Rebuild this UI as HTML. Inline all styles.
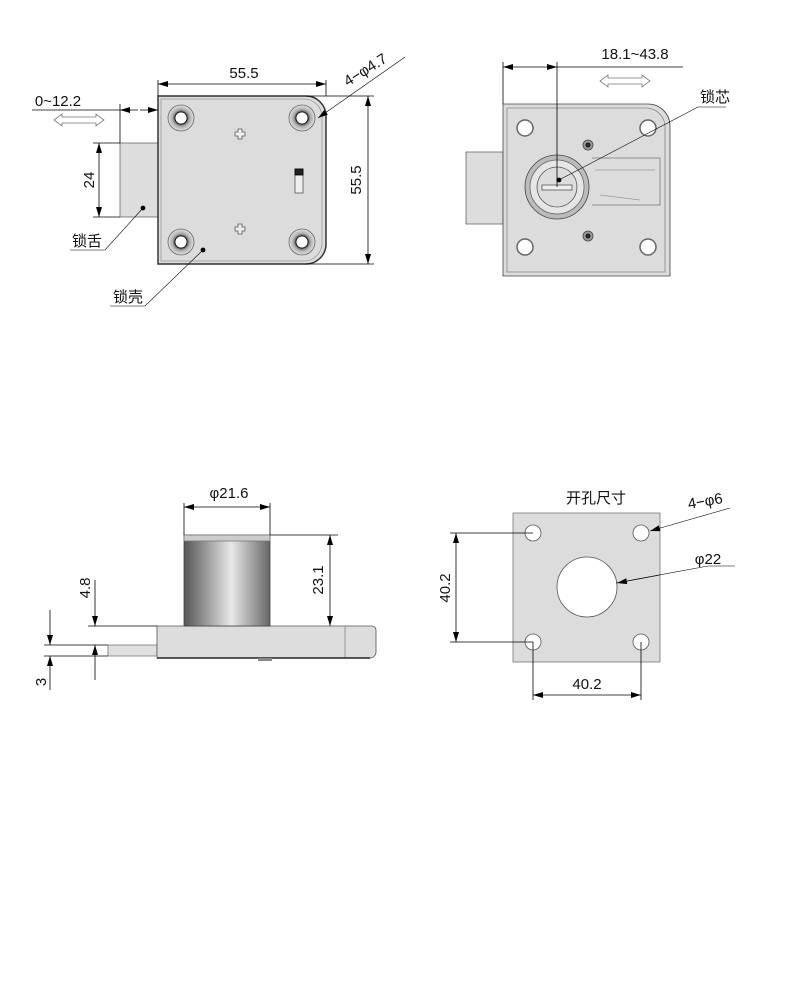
<!DOCTYPE html>
<html><head><meta charset="utf-8"><style>
body{margin:0;background:#fff}
svg text{font-family:"Liberation Sans","Noto Sans CJK SC",sans-serif;fill:#111}
</style></head><body>
<svg width="788" height="1000" viewBox="0 0 788 1000" xmlns="http://www.w3.org/2000/svg">
<defs>
<marker id="a" viewBox="0 0 10 6" refX="10" refY="3" markerWidth="10" markerHeight="6" orient="auto-start-reverse" markerUnits="userSpaceOnUse"><path d="M0,0L10,3L0,6z" fill="#000"/></marker>
<radialGradient id="hole" cx="0.5" cy="0.5" r="0.5"><stop offset="0.45" stop-color="#444"/><stop offset="0.65" stop-color="#aaa"/><stop offset="1" stop-color="#e4e4e4"/></radialGradient>
<linearGradient id="cyl" x1="0" x2="1"><stop offset="0" stop-color="#555"/><stop offset="0.55" stop-color="#e8e8e8"/><stop offset="1" stop-color="#666"/></linearGradient>
</defs>
<g stroke="#000" stroke-width="0.8" fill="none">
<!-- VIEW 1 -->
<rect x="120" y="143" width="38" height="74" fill="#ddd" stroke="#666"/>
<path d="M158,96H306A20,20 0 0 1 326,116V244A20,20 0 0 1 306,264H158Z" fill="#dcdcdc" stroke="#333" stroke-width="1.5"/>
<path d="M161,99H304A18,18 0 0 1 322,117V243A18,18 0 0 1 304,261H161Z" stroke="#999"/>
<g>
<circle cx="181" cy="118" r="13" fill="url(#hole)" stroke="#666"/><circle cx="181" cy="118" r="6" fill="#fff"/>
<circle cx="302" cy="118" r="13" fill="url(#hole)" stroke="#666"/><circle cx="302" cy="118" r="6" fill="#fff"/>
<circle cx="181" cy="242" r="13" fill="url(#hole)" stroke="#666"/><circle cx="181" cy="242" r="6" fill="#fff"/>
<circle cx="302" cy="242" r="13" fill="url(#hole)" stroke="#666"/><circle cx="302" cy="242" r="6" fill="#fff"/>
</g>
<path d="M238,129h4v3h3v4h-3v3h-4v-3h-3v-4h3z" stroke="#555" fill="#eee"/>
<path d="M238,224h4v3h3v4h-3v3h-4v-3h-3v-4h3z" stroke="#555" fill="#eee"/>
<rect x="295" y="169" width="8" height="24" fill="#eee" stroke="#555"/><rect x="295" y="169" width="8" height="6" fill="#222"/>
<line x1="158" y1="96" x2="158" y2="80"/><line x1="326" y1="96" x2="326" y2="80"/>
<line x1="158" y1="84" x2="326" y2="84" marker-start="url(#a)" marker-end="url(#a)"/>
<line x1="306" y1="96" x2="374" y2="96"/><line x1="306" y1="264" x2="374" y2="264"/>
<line x1="368" y1="96" x2="368" y2="264" marker-start="url(#a)" marker-end="url(#a)"/>
<line x1="120" y1="143" x2="120" y2="104"/>
<line x1="32" y1="110" x2="120" y2="110"/>
<line x1="120" y1="110" x2="138" y2="110" marker-start="url(#a)"/><line x1="140" y1="110" x2="158" y2="110" marker-end="url(#a)"/>
<path d="M54,120l8,-6v3h34v-3l8,6l-8,6v-3h-34v3z" stroke="#777"/>
<line x1="120" y1="143" x2="93" y2="143"/><line x1="120" y1="217" x2="93" y2="217"/>
<line x1="99" y1="143" x2="99" y2="217" marker-start="url(#a)" marker-end="url(#a)"/>
<circle cx="143" cy="208" r="2" fill="#000"/><polyline points="143,208 105,250 70,250" stroke-width="0.6"/>
<circle cx="203" cy="250" r="2" fill="#000"/><polyline points="203,250 145,306 110,306" stroke-width="0.6"/>
<line x1="405" y1="57" x2="318" y2="118" marker-end="url(#a)" stroke-width="0.6"/>
<!-- VIEW 2 -->
<rect x="466" y="152" width="37" height="72" fill="#ddd" stroke="#666"/>
<path d="M503,104H648A22,22 0 0 1 670,126V276H503Z" fill="#dcdcdc" stroke="#444"/>
<path d="M507,108H646A19,19 0 0 1 665,127V272H507Z" stroke="#888"/>
<path d="M592,158H660V205H592" stroke="#777"/>
<path d="M595,170H655M600,195L640,200" stroke="#999"/>
<circle cx="525" cy="128" r="8" fill="#fff" stroke="#666" stroke-width="1.5"/>
<circle cx="648" cy="128" r="8" fill="#fff" stroke="#666" stroke-width="1.5"/>
<circle cx="525" cy="247" r="8" fill="#fff" stroke="#666" stroke-width="1.5"/>
<circle cx="648" cy="247" r="8" fill="#fff" stroke="#666" stroke-width="1.5"/>
<circle cx="588" cy="145" r="5" fill="#999" stroke="#444"/><circle cx="588" cy="145" r="2" fill="#333"/>
<circle cx="588" cy="236" r="5" fill="#999" stroke="#444"/><circle cx="588" cy="236" r="2" fill="#333"/>
<circle cx="557" cy="187" r="32" fill="#bbb" stroke="#444"/>
<circle cx="557" cy="187" r="27" fill="#e6e6e6" stroke="#666"/>
<circle cx="557" cy="187" r="20" fill="#ddd" stroke="#555"/>
<rect x="542" y="185" width="30" height="5" fill="#eee" stroke="#555"/>
<line x1="503" y1="104" x2="503" y2="62"/><line x1="557" y1="187" x2="557" y2="62"/>
<line x1="503" y1="67" x2="557" y2="67" marker-start="url(#a)" marker-end="url(#a)"/>
<line x1="557" y1="67" x2="683" y2="67"/>
<path d="M600,81l8,-6v3h34v-3l8,6l-8,6v-3h-34v3z" stroke="#777"/>
<circle cx="559" cy="180" r="2" fill="#000"/><polyline points="559,180 698,107 726,107" stroke-width="0.6"/>
<!-- VIEW 3 -->
<rect x="108" y="645" width="49" height="11" fill="#e0e0e0" stroke="#777"/>
<path d="M157,626H372A4,4 0 0 1 376,630V652A6,6 0 0 1 370,658H157Z" fill="#ddd" stroke="#555"/>
<line x1="345" y1="626" x2="345" y2="658" stroke="#888"/>
<line x1="157" y1="658" x2="370" y2="658" stroke="#222" stroke-width="1.5"/>
<rect x="258" y="658" width="14" height="3" fill="#888" stroke="none"/>
<rect x="184" y="535" width="86" height="91" fill="url(#cyl)" stroke="#444"/>
<rect x="184" y="535" width="86" height="6" fill="#ccc" stroke="#777"/>
<line x1="184" y1="535" x2="184" y2="503"/><line x1="270" y1="535" x2="270" y2="503"/>
<line x1="184" y1="507" x2="270" y2="507" marker-start="url(#a)" marker-end="url(#a)"/>
<line x1="270" y1="535" x2="338" y2="535"/>
<line x1="330" y1="535" x2="330" y2="626" marker-start="url(#a)" marker-end="url(#a)"/>
<line x1="88" y1="626" x2="157" y2="626"/><line x1="44" y1="645" x2="108" y2="645"/><line x1="44" y1="656" x2="108" y2="656"/>
<line x1="95" y1="580" x2="95" y2="626" marker-end="url(#a)"/><line x1="95" y1="645" x2="95" y2="680" marker-start="url(#a)"/>
<line x1="50" y1="610" x2="50" y2="645" marker-end="url(#a)"/><line x1="50" y1="656" x2="50" y2="690" marker-start="url(#a)"/>
<!-- VIEW 4 -->
<rect x="513" y="513" width="147" height="149" fill="#dcdcdc" stroke="#777"/>
<circle cx="533" cy="533" r="8" fill="#fff" stroke="#555"/>
<circle cx="641" cy="533" r="8" fill="#fff" stroke="#555"/>
<circle cx="533" cy="642" r="8" fill="#fff" stroke="#555"/>
<circle cx="641" cy="642" r="8" fill="#fff" stroke="#555"/>
<circle cx="587" cy="587" r="30" fill="#fff" stroke="#555"/>
<line x1="450" y1="533" x2="533" y2="533"/><line x1="450" y1="642" x2="533" y2="642"/>
<line x1="456" y1="533" x2="456" y2="642" marker-start="url(#a)" marker-end="url(#a)"/>
<line x1="533" y1="642" x2="533" y2="700"/><line x1="641" y1="642" x2="641" y2="700"/>
<line x1="533" y1="695" x2="641" y2="695" marker-start="url(#a)" marker-end="url(#a)"/>
<line x1="730" y1="508" x2="650" y2="531" marker-end="url(#a)" stroke-width="0.6"/>
<polyline points="616,583 708,566 735,566" stroke-width="0.6"/>
<line x1="660" y1="575" x2="617" y2="583" marker-end="url(#a)" stroke-width="0.6"/>
</g>
<g font-size="15">
<text x="244" y="78" text-anchor="middle">55.5</text>
<text transform="translate(361,180) rotate(-90)" text-anchor="middle">55.5</text>
<text x="58" y="106" text-anchor="middle">0~12.2</text>
<text transform="translate(94,180) rotate(-90)" text-anchor="middle">24</text>
<text x="87" y="246" text-anchor="middle">锁舌</text>
<text x="128" y="302" text-anchor="middle">锁壳</text>
<text transform="translate(368,74) rotate(-32)" text-anchor="middle">4−φ4.7</text>
<text x="635" y="59" text-anchor="middle">18.1~43.8</text>
<text x="715" y="102" text-anchor="middle">锁芯</text>
<text x="229" y="498" text-anchor="middle">φ21.6</text>
<text transform="translate(323,580) rotate(-90)" text-anchor="middle">23.1</text>
<text transform="translate(90,588) rotate(-90)" text-anchor="middle">4.8</text>
<text transform="translate(46,682) rotate(-90)" text-anchor="middle">3</text>
<text x="596" y="503" text-anchor="middle">开孔尺寸</text>
<text transform="translate(706,506) rotate(-10)" text-anchor="middle">4−φ6</text>
<text x="708" y="564" text-anchor="middle">φ22</text>
<text transform="translate(450,588) rotate(-90)" text-anchor="middle">40.2</text>
<text x="587" y="689" text-anchor="middle">40.2</text>
</g>
</svg>
</body></html>
